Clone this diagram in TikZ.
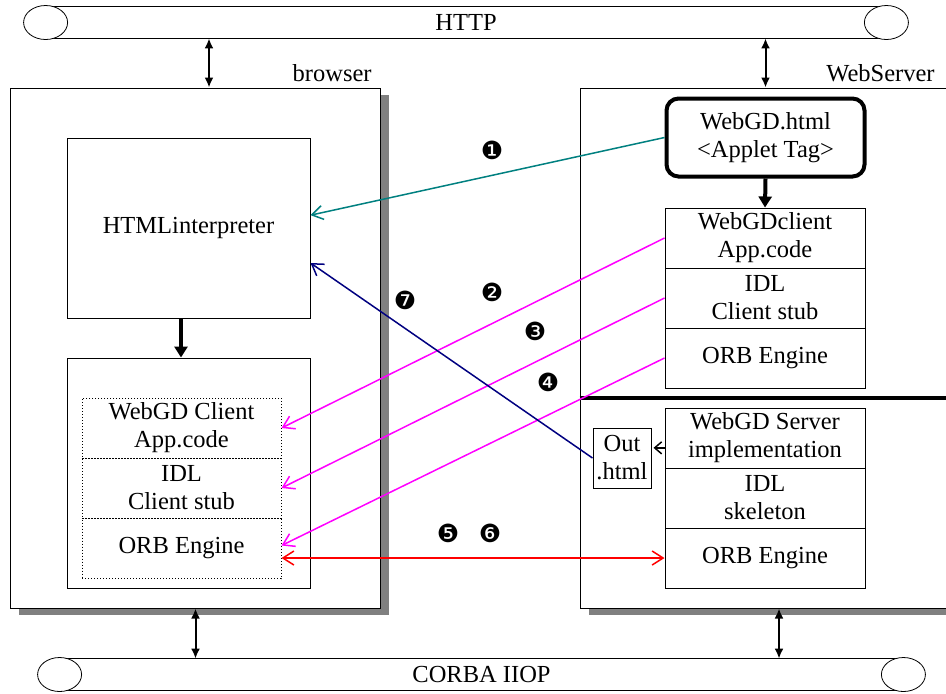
\documentclass[tikz,border=0pt]{standalone}
\usepackage{fontspec}
\setmainfont{Liberation Serif}
\newfontfamily\dingfont{DejaVu Sans}
\usetikzlibrary{arrows.meta,shadows}
\definecolor{tealline}{RGB}{0,128,128}
\definecolor{navyline}{RGB}{0,0,128}
\definecolor{pinkline}{RGB}{255,0,255}

\begin{document}
\begin{tikzpicture}
            [x=0.5pt, y=-0.5pt, >={Latex[length=5pt,width=4.5pt]},
             every node/.style={font=\fontsize{12.25pt}{14pt}\selectfont, inner sep=0pt},
             frame/.style={draw, fill=white, line width=0.5pt,
               drop shadow={shadow xshift=4.5pt, shadow yshift=-3.5pt, fill=black!50, opacity=1}},
             box/.style={draw, line width=0.5pt, align=center},
             cell/.style={box, minimum width=100pt, minimum height=30pt},
             dcell/.style={box, densely dotted, minimum width=99.5pt, minimum height=30pt},
             pipe/.style={minimum height=15.5pt},
             num/.style={font=\dingfont\fontsize{12.5pt}{13pt}\selectfont},
             link/.style={<->, line width=1pt},
             bold/.style={->, line width=2pt, >={Triangle[length=5.5pt,width=6.5pt]}},
             flow/.style={->, line width=0.75pt, >={Straight Barb[length=5.5pt,width=7pt]}}]
            \useasboundingbox (0,0) rectangle (946,693);

            % buses
            \node[pipe, minimum width=420pt] (http) at (466,22.5) {HTTP};
            \node[pipe, minimum width=421.5pt] (corba) at (481.5,674.5) {CORBA IIOP};
            \draw (http.north west) -- (http.north east) (http.south west) -- (http.south east);
            \draw (corba.north west) -- (corba.north east) (corba.south west) -- (corba.south east);
            \draw[fill=white] (http.west) ellipse [x radius=11pt, y radius=8.5pt]
                              (http.east) ellipse [x radius=11pt, y radius=8.5pt];
            \draw[fill=white] (corba.west) ellipse [x radius=11pt, y radius=8.5pt]
                              (corba.east) ellipse [x radius=11pt, y radius=8.5pt];

            % browser side
            \node[frame, minimum width=185pt, minimum height=260pt] (browser) at (195,348) {};
            \node[anchor=east] (browserlabel) at (372,73) {browser};
            \node[box, minimum width=121.5pt, minimum height=90pt] (html) at (188.5,228) {HTMLinterpreter};
            \node[box, minimum width=121.5pt, minimum height=115pt] (client) at (188.5,473) {};
            \node[dcell] (capp) at (181.5,428) {WebGD Client\\App.code};
            \node[dcell] (cstub) at (181.5,488) {IDL\\Client stub};
            \node[dcell] (corb) at (181.5,548.5) {ORB Engine};

            % server side
            \node[frame, minimum width=190pt, minimum height=260pt] (server) at (770,348) {};
            \node[anchor=east] (serverlabel) at (935,73) {WebServer};
            \node[box, line width=2pt, rounded corners=6pt, minimum width=99pt,
                  minimum height=39pt] (webgd) at (765.5,137.5) {WebGD.html\\<Applet Tag>};
            \node[cell] (sapp) at (765,238) {WebGDclient\\App.code};
            \node[cell] (sstub) at (765,298) {IDL\\Client stub};
            \node[cell] (sorb) at (765,358) {ORB Engine};
            \node[cell] (simpl) at (765,438) {WebGD Server\\implementation};
            \node[cell] (skel) at (765,498) {IDL\\skeleton};
            \node[cell] (sorb2) at (765,558) {ORB Engine};
            \node[box, minimum width=29pt, minimum height=30pt] (out) at (622,458) {Out\\.html};
            \coordinate (sep) at (0,398);
            \draw[line width=2pt] (server.west |- sep) -- (server.east |- sep);

            % links to the buses
            \coordinate (bx) at (209,0);
            \coordinate (cx) at (195.5,0);
            \coordinate (sx) at (779,0);
            \draw[link] (http.south -| bx) -- (browser.north -| bx);
            \draw[link] (http.south -| webgd.south) -- (server.north -| webgd.south);
            \draw[link] (browser.south -| cx) -- (corba.north -| cx);
            \draw[link] (server.south -| sx) -- (corba.north -| sx);

            % inner arrows
            \coordinate (hx) at (181,0);
            \draw[bold] (html.south -| hx) -- (client.north -| hx);
            \draw[bold] (webgd.south) -- (sapp.north);
            \draw[->, line width=0.75pt, >={Straight Barb[length=3.5pt,width=6pt]}] (out.19 -| simpl.west) -- ([xshift=1pt]out.19);

            % numbered flows
            \draw[flow, tealline] (webgd.west) -- (html.6);
            \draw[flow, pinkline] (sapp.west) -- (capp.east);
            \draw[flow, pinkline] (sstub.west) -- (cstub.east);
            \draw[flow, pinkline] (sorb.west) -- ([yshift=1.5pt]corb.east);
            \draw[flow, red, <->] (sorb2.west -| corb.east) -- (sorb2.west);
            \draw[flow, navyline] (out.west) -- (html.-16);
            \node[num] (n1) at (492,150) {❶};
            \node[num] (n2) at (492,292) {❷};
            \node[num] (n3) at (535,331) {❸};
            \node[num] (n4) at (548,382) {❹};
            \node[num] (n5) at (448,533) {❺};
            \node[num] (n6) at (490,533) {❻};
            \node[num] (n7) at (405,300) {❼};
        \end{tikzpicture}
\end{document}
